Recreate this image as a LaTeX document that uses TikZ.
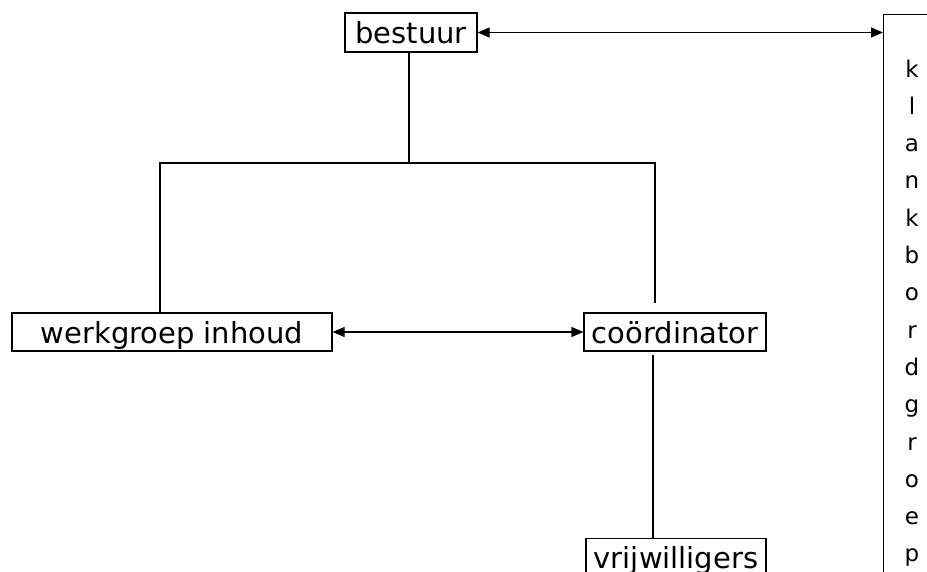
\documentclass[tikz,border=0pt]{standalone}
\usepackage{fontspec}
\setmainfont{DejaVu Sans}
\usetikzlibrary{arrows.meta}
\begin{document}
\begin{tikzpicture}[x=1pt,y=-1pt,
  box/.style={draw, line width=1.2pt, inner sep=0pt, minimum height=38pt,
    text height=22pt, text depth=0pt, font=\fontsize{29}{34}\selectfont},
  conn/.style={line width=1.2pt},
  tip/.style={Triangle[length=12pt,width=10pt]},
  dbl/.style={conn, {Triangle[length=12pt,width=10pt]}-{Triangle[length=12pt,width=10pt]}},
  letter/.style={inner sep=0pt, anchor=base, font=\fontsize{23}{26}\selectfont}]
\useasboundingbox (0,0) rectangle (927,571);
\clip (0,0) rectangle (927,571);
\fill[white] (0,0) rectangle (927,571);
% nodes
\node[box, minimum width=132pt, minimum height=39pt] (bestuur) at (411,32.5) {bestuur};
\node[box, minimum width=320pt] (werk) at (172,332) {werkgroep inhoud};
\node[box, minimum width=182pt] (coord) at (675,332) {coördinator};
\node[box, minimum width=180pt, anchor=north] (vrij) at (676,538) {vrijwilligers};
\node[draw, line width=1.2pt, anchor=north west, inner sep=0pt, minimum width=90pt, minimum height=620pt] (klank) at (883,14) {};
\foreach \c [count=\i] in {k,l,a,n,k,b,o,r,d,g,r,o,e,p}
  \node[letter] (l\i) at (912,{77+(\i-1)*37.3}) {\c};
% coordinates
\coordinate (hbar) at (409,163);
\coordinate (ltop) at (160,163);
\coordinate (rtop) at (655,163);
\coordinate (rend) at (655,303);
\coordinate (cbot) at (653,355);
% connectors
\draw[conn] (bestuur.south -| hbar) -- (hbar);
\draw[conn] (ltop |- werk.north) -- (ltop) -- (rtop) -- (rend);
\draw[conn] (cbot) -- (cbot |- vrij.north);
\draw[dbl] (werk.east) -- (coord.west);
\draw[dbl] (bestuur.east) -- (bestuur.east -| klank.west);
\end{tikzpicture}
\end{document}
